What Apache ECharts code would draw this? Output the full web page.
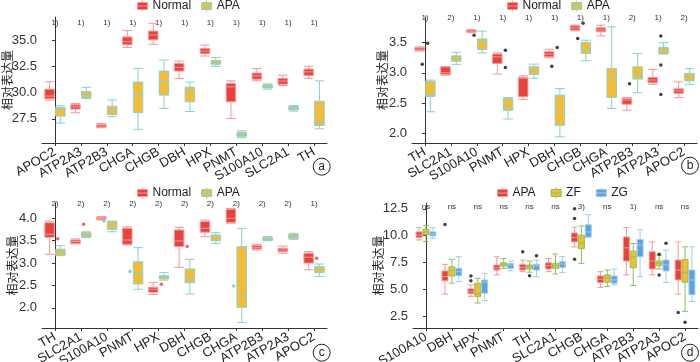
<!DOCTYPE html>
<html><head><meta charset="utf-8">
<script src="https://cdn.jsdelivr.net/npm/echarts@6/dist/echarts.min.js"></script>
<style>html,body{margin:0;padding:0;background:#fff}#c{width:700px;height:362px}</style>
</head><body><div id="c"></div>
<script>
// ---------- Panel a ----------
const categoriesA = ['APOC2','ATP2A3','ATP2B3','CHGA','CHGB','DBH','HPX','PNMT','S100A10','SLC2A1','TH'];
const sigA = ['1)','1)','1)','1)','1)','1)','1)','1)','1)','1)','1)'];
const yTicksA = [27.5, 30.0, 32.5, 35.0];
// [min, Q1, median, Q3, max]
const normalA = [
  [29.28,29.41,29.67,30.33,31.03],[28.08,28.43,28.65,28.84,28.97],[26.65,26.7,26.83,26.95,27.05],
  [34.3,34.55,34.85,35.3,35.9],[34.6,35.03,35.48,35.86,36.6],[31.35,32.05,32.4,32.78,33.0],
  [33.48,33.7,33.95,34.2,34.52],[27.53,29.12,30.55,30.87,31.12],[31.12,31.28,31.6,31.86,32.3],
  [30.68,30.8,31.1,31.35,31.67],[31.35,31.63,31.98,32.24,32.52]];
const apaA = [
  [27.1,27.76,28.4,28.59,28.75],[29.44,29.54,29.85,30.1,30.5],[27.7,27.9,28.3,28.7,29.3],
  [26.5,28.1,29.76,31.0,32.3],[28.5,29.76,31.06,32.05,33.1],[28.2,29.12,30.05,30.52,31.0],
  [32.5,32.7,32.87,33.06,33.35],[25.7,25.85,26.0,26.2,26.36],[30.33,30.45,30.6,30.74,30.83],
  [28.24,28.36,28.52,28.68,28.77],[26.55,26.87,27.1,29.18,31.12]];
const outliersA = [];

// ---------- Panel b ----------
const categoriesB = ['TH','SLC2A1','S100A10','PNMT','HPX','DBH','CHGB','CHGA','ATP2B3','ATP2A3','APOC2'];
const sigB = ['1)','2)','1)','1)','1)','1)','1)','1)','2)','1)','2)'];
const yTicksB = [2.0, 2.5, 3.0, 3.5];
const normalB = [
  [3.36,3.371,3.39,3.414,3.43],[2.96,2.97,3.0,3.1,3.1],[3.665,3.674,3.69,3.707,3.715],
  [2.98,3.155,3.265,3.31,3.33],[2.56,2.603,2.91,2.924,2.95],[3.25,3.265,3.31,3.35,3.39],
  [3.695,3.707,3.745,3.78,3.79],[3.61,3.68,3.71,3.745,3.79],[2.38,2.48,2.55,2.576,2.59],
  [2.81,2.835,2.88,2.924,3.056],[2.59,2.66,2.7,2.735,2.85]];
const apaB = [
  [2.355,2.61,2.64,2.86,2.88],[3.14,3.19,3.23,3.28,3.34],[3.33,3.387,3.51,3.56,3.69],
  [2.235,2.38,2.44,2.576,2.59],[2.91,2.974,3.04,3.1,3.144],[1.94,2.13,2.45,2.63,2.74],
  [3.2,3.32,3.39,3.503,3.54],[2.41,2.593,2.92,3.073,3.76],[2.67,2.896,2.96,3.1,3.32],
  [3.31,3.32,3.39,3.42,3.5],[2.81,2.867,2.935,2.99,3.07]];
// [category index, group index, value]
const outliersB = [[0,0,3.14],[0,1,3.49],[2,0,3.62],[3,1,3.375],[3,1,3.09],[5,0,3.11],[5,1,3.42],
  [6,0,3.57],[6,1,3.82],[8,0,2.82],[9,1,3.61],[9,1,3.13],[9,1,2.64]];

// ---------- Panel c ----------
const categoriesC = ['TH','SLC2A1','S100A10','PNMT','HPX','DBH','CHGB','CHGA','ATP2B3','ATP2A3','APOC2'];
const sigC = ['2)','2)','2)','2)','2)','2)','2)','2)','2)','2)','1)'];
const yTicksC = [2.0, 2.5, 3.0, 3.5, 4.0];
const normalC = [
  [3.196,3.576,3.643,3.90,3.94],[3.43,3.44,3.48,3.516,3.54],[3.96,3.978,4.0,4.02,4.04],
  [3.405,3.42,3.516,3.777,3.81],[2.30,2.35,2.415,2.46,2.57],[2.906,3.37,3.494,3.74,3.80],
  [3.59,3.69,3.777,3.926,3.96],[3.89,3.91,4.0,4.2,4.22],[3.29,3.315,3.35,3.39,3.42],
  [3.22,3.256,3.293,3.33,3.38],[2.85,3.0,3.13,3.22,3.256]];
const apaC = [
  [3.167,3.18,3.256,3.31,3.39],[3.57,3.59,3.643,3.68,3.70],[3.70,3.754,3.814,3.926,3.94],
  [2.415,2.534,2.77,3.03,3.345],[2.62,2.646,2.683,2.72,2.787],[2.31,2.564,2.624,2.87,3.085],
  [3.44,3.5,3.568,3.628,3.68],[1.67,2.013,2.3,3.367,3.777],[3.50,3.51,3.546,3.576,3.59],
  [3.53,3.554,3.6,3.643,3.665],[2.70,2.787,2.85,2.92,2.98]];
const outliersC = [[0,1,3.545],[1,1,3.87],[2,0,3.94],[3,0,2.81],[4,1,2.53],[5,1,3.37],[7,0,2.49],[10,1,3.11]];

// ---------- Panel d ----------
const categoriesD = ['S100A10','DBH','HPX','PNMT','TH','SLC2A1','CHGB','CHGA','ATP2B3','ATP2A3','APOC2'];
const sigD = ['ns','ns','ns','ns','ns','ns','3)','ns','1)','ns','ns'];
const yTicksD = [2.5, 5.0, 7.5, 10.0, 12.5];
const apaD = [
  [9.6,9.82,10.05,10.35,10.75],[4.56,5.8,6.2,6.72,7.33],[4.35,4.6,4.8,5.05,5.42],
  [6.35,6.8,7.02,7.27,8.04],[6.65,6.8,7.05,7.33,7.73],[6.65,6.9,7.2,7.48,7.88],
  [8.96,9.42,9.82,10.25,10.8],[5.18,5.64,5.95,6.25,6.65],[6.35,7.64,8.87,9.88,10.75],
  [6.35,6.9,7.64,8.5,9.42],[4.56,5.88,6.8,7.73,9.42]];
const zfD = [
  [9.45,10.1,10.35,10.6,10.95],[5.58,6.25,6.8,7.1,7.8],[3.73,4.35,4.6,5.58,6.04],
  [6.96,7.17,7.33,7.48,7.88],[6.6,6.9,7.12,7.27,7.64],[6.44,6.96,7.2,7.42,8.3],
  [7.42,8.8,9.33,10.04,10.9],[5.27,5.67,6.04,6.35,6.8],[5.36,7.02,8.04,8.56,9.27],
  [6.9,7.2,7.42,7.64,8.19],[2.96,5.67,6.59,7.79,8.96]];
const zgD = [
  [9.75,9.98,10.15,10.35,10.75],[5.73,6.28,6.65,6.96,8.04],[3.95,4.65,5.67,5.88,6.5],
  [6.72,6.96,7.27,7.42,7.64],[6.19,6.8,7.18,7.33,7.73],[6.56,7.05,7.36,7.58,8.04],
  [9.82,9.88,10.35,11.02,11.95],[5.42,5.58,5.88,6.25,6.9],[6.19,8.04,9.12,9.64,10.56],
  [5.64,6.72,7.27,7.73,8.65],[3.88,4.5,5.88,6.8,8.96]];
const outliersD = [[1,0,11.05],[2,0,6.25],[2,0,5.8],[4,0,8.5],[4,1,6.28],[4,2,8.13],[6,0,12.5],[6,0,11.6],
  [6,0,7.8],[9,1,8.28],[9,1,6.35],[9,2,9.3],[10,0,2.85],[10,1,1.95]];

const yName = '相对表达量';

// ---------- styles ----------
const FONT = 'Liberation Sans, Arial, sans-serif';
const CJK = 'Noto Sans CJK SC, sans-serif';
const AX = '#333333';
const RED = '#E8423E', RED_L = '#F39A98';
const YEL = '#F3BC34', TEAL = '#86D2D2';
const GRN = '#86C55A', BLU = '#5CA2DC', BLU_L = '#A3CBEE';
const BOX_ICON = 'path://M5,0L5,2M0,2L10,2L10,9L0,9ZM0,5.5L10,5.5M5,9L5,11';

const panels = [
  {grid:{left:42, top:17, width:285, height:126}, cats:categoriesA, sig:sigA, yMin:25.2, yMax:37.2, ticks:yTicksA,
   nameGap:29, sigOffset:-9.5, boxW:9.5, labelPad:{'S100A10':22},
   groups:[{name:'Normal',data:normalA,fill:RED,line:RED_L},{name:'APA',data:apaA,fill:YEL,line:TEAL}],
   outliers:outliersA, outColors:['#111','#111'], legend:{left:137, top:0}, tag:'a', tagPos:[321.7,166.7]},
  {grid:{left:412, top:17, width:285, height:126}, cats:categoriesB, sig:sigB, yMin:1.838, yMax:3.924, ticks:yTicksB,
   nameGap:23.5, sigOffset:-4.8, boxW:9.5, labelPad:{'SLC2A1':14,'S100A10':20},
   groups:[{name:'Normal',data:normalB,fill:RED,line:RED_L},{name:'APA',data:apaB,fill:YEL,line:TEAL}],
   outliers:outliersB, outColors:['#111','#111'], legend:{left:507, top:0}, tag:'b', tagPos:[690,165.7]},
  {grid:{left:42, top:203, width:285, height:125}, cats:categoriesC, sig:sigC, yMin:1.551, yMax:4.342, ticks:yTicksC,
   nameGap:24, sigOffset:-4.8, boxW:9.5, labelPad:{'SLC2A1':18,'S100A10':22},
   groups:[{name:'Normal',data:normalC,fill:RED,line:RED_L},{name:'APA',data:apaC,fill:YEL,line:TEAL}],
   outliers:outliersC, outColors:['#6CC5C5',RED], legend:{left:137, top:187}, tag:'c', tagPos:[321.7,352.7]},
  {grid:{left:413, top:203, width:285, height:125}, cats:categoriesD, sig:sigD, yMin:1.41, yMax:13.04, ticks:yTicksD,
   nameGap:29, sigOffset:-7.5, boxW:6, labelPad:{'SLC2A1':8},
   groups:[{name:'APA',data:apaD,fill:RED,line:RED_L},{name:'ZF',data:zfD,fill:YEL,line:GRN},{name:'ZG',data:zgD,fill:BLU,line:BLU_L}],
   outliers:outliersD, outColors:['#111','#111','#111'], legend:{left:497, top:187, gap:15}, tag:'d', tagPos:[690,352.7]}
];

const option = {animation:false, backgroundColor:'#fff', grid:[], xAxis:[], yAxis:[], series:[], legend:[], graphic:[]};

panels.forEach((p, i) => {
  option.grid.push(Object.assign({outerBoundsMode:'none', containLabel:false}, p.grid));
  option.xAxis.push({
    type:'category', gridIndex:i, boundaryGap:true, position:'bottom',
    data:p.cats.map(c => p.labelPad[c] ? {value:c, textStyle:{padding:[p.labelPad[c],0,0,0]}} : c),
    axisLine:{show:true, lineStyle:{color:AX, width:1}},
    axisTick:{show:true, alignWithLabel:true, length:3, lineStyle:{color:AX}},
    axisLabel:{interval:0, rotate:30, fontSize:13, color:'#222', margin:8, fontFamily:FONT, hideOverlap:false},
    splitLine:{show:false}
  });
  option.xAxis.push({
    type:'category', gridIndex:i, data:p.sig, position:'top', offset:p.sigOffset, boundaryGap:true,
    axisLine:{show:false}, axisTick:{show:false}, splitLine:{show:false},
    axisLabel:{interval:0, fontSize:8, color:'#333', margin:0, fontFamily:FONT}
  });
  option.xAxis.push({type:'value', gridIndex:i, position:'bottom', min:-0.5, max:p.cats.length-0.5, show:false, splitLine:{show:false}});
  option.yAxis.push({
    type:'value', gridIndex:i, min:p.yMin, max:p.yMax,
    name:yName, nameLocation:'middle', nameGap:p.nameGap, nameRotate:90, nameMoveOverlap:false,
    nameTextStyle:{fontFamily:CJK, fontSize:12, color:'#222'},
    axisLine:{show:true, lineStyle:{color:AX, width:1}},
    axisTick:{show:true, length:3, lineStyle:{color:AX}, customValues:p.ticks},
    axisLabel:{customValues:p.ticks, formatter:v => Number(v).toFixed(1), fontSize:13, color:'#333', margin:5, fontFamily:FONT},
    splitLine:{show:false}
  });
  const n = p.groups.length;
  const step = n === 2 ? 0.208 : 0.265;
  p.groups.forEach(g => {
    option.series.push({
      type:'boxplot', name:g.name, xAxisIndex:i*3, yAxisIndex:i, data:g.data,
      boxWidth:[p.boxW, p.boxW], silent:true,
      itemStyle:{color:g.fill, borderColor:g.line, borderWidth:1},
      emphasis:{disabled:true}
    });
  });
  if (p.outliers.length) {
    option.series.push({
      type:'scatter', xAxisIndex:i*3+2, yAxisIndex:i, symbolSize:3.5, silent:true,
      data:p.outliers.map(o => ({value:[o[0] + (o[1] - (n-1)/2) * step, o[2]], itemStyle:{color:p.outColors[o[1]]}}))
    });
  }
  option.legend.push({
    left:p.legend.left, top:p.legend.top, padding:0, icon:BOX_ICON, itemWidth:10, itemHeight:12, itemGap:p.legend.gap || 10,
    selectedMode:false,
    textStyle:{fontSize:12, color:'#222', fontFamily:FONT},
    data:p.groups.map(g => ({name:g.name, itemStyle:{color:g.fill, borderColor:g.line, borderWidth:1}}))
  });
  option.graphic.push({type:'circle', shape:{cx:p.tagPos[0], cy:p.tagPos[1], r:8.5}, style:{fill:'#fff', stroke:'#222', lineWidth:1}, silent:true});
  option.graphic.push({type:'text', x:p.tagPos[0], y:p.tagPos[1], silent:true,
    style:{text:p.tag, fill:'#222', font:'12px Liberation Sans', align:'center', verticalAlign:'middle', textAlign:'center', textVerticalAlign:'middle'}});
});

const chart = echarts.init(document.getElementById('c'), null, {renderer:'canvas'});
chart.setOption(option);
</script>
</body></html>
